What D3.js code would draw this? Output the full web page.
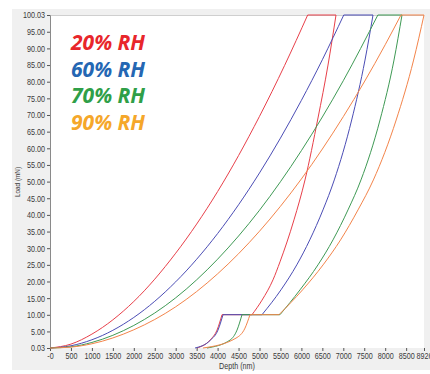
<!DOCTYPE html>
<html>
<head>
<meta charset="utf-8">
<script src="https://cdn.jsdelivr.net/npm/d3@7"></script>
<style>
  html, body { margin: 0; padding: 0; background: #ffffff; }
  svg { display: block; }
  .tick text { font-family: "Liberation Sans", Arial, sans-serif; font-size: 9px; fill: #3a3a3a; }
  .tick line { stroke: #555; }
</style>
</head>
<body>
<svg id="chart" width="430" height="374"></svg>
<script>
// Load–depth indentation curves at four relative humidities.
// Each test: loading to 100 mN, hold, unloading to 10 mN, hold, final unload.
const seriesNames = ["20% RH", "60% RH", "70% RH", "90% RH"];

// [depth (nm), load (mN)]
const rh20Loading = [[0, 0.03], [500, 1.2], [1000, 4.2], [2000, 14.0], [3000, 28.5], [4000, 47.0], [5000, 69.6], [5600, 84.9], [6150, 100.03]];
const rh20Unloading = [[6826, 100.03], [6635, 85.0], [6396, 69.1], [6086, 50.5], [5823, 38.5], [5489, 25.9], [5322, 20.5], [5060, 14.4], [4821, 10.03]];
const rh20Tail = [[4105, 10.03], [3986, 5.4], [3819, 2.4], [3508, 0.03]];

const rh60Loading = [[0, 0.03], [500, 0.7], [1000, 2.5], [2000, 9.2], [3000, 19.9], [4000, 34.4], [5000, 52.6], [6000, 74.4], [6500, 86.6], [7011, 100.03]];
const rh60Unloading = [[7709, 100.03], [7518, 86.5], [7200, 68.5], [6785, 50.5], [6515, 41.5], [6200, 32.5], [5890, 25.0], [5513, 17.5], [5060, 10.03]];
const rh60Tail = [[4129, 10.03], [4009, 5.4], [3831, 2.4], [3461, 0.03]];

const rh70Loading = [[0, 0.03], [500, 0.4], [1000, 1.7], [2000, 6.8], [3000, 15.1], [4000, 26.7], [5000, 41.4], [6000, 59.3], [7000, 80.3], [7825, 100.03]];
const rh70Unloading = [[8401, 100.03], [8210, 86.5], [7876, 68.5], [7422, 50.5], [7112, 41.5], [6754, 32.5], [6396, 25.0], [5967, 17.5], [5489, 10.03]];
const rh70Tail = [[4582, 10.03], [4463, 5.4], [4296, 2.4], [3747, 0.03]];

const rh90Loading = [[0, 0.03], [500, 0.3], [1000, 1.3], [2000, 5.5], [3000, 12.4], [4000, 22.3], [5000, 35.1], [6000, 50.8], [7000, 69.5], [8000, 91.1], [8376, 100.03]];
const rh90Unloading = [[8926, 100.03], [8678, 86.5], [8262, 68.5], [7718, 50.5], [7351, 41.5], [6935, 32.5], [6518, 25.0], [6029, 17.5], [5465, 10.03]];
const rh90Tail = [[4773, 10.03], [4654, 6.0], [4439, 3.0], [3651, 0.03]];

const xTickValues = [0, 500, 1000, 1500, 2000, 2500, 3000, 3500, 4000, 4500, 5000, 5500, 6000, 6500, 7000, 7500, 8000, 8500, 8926];
const yTickValues = [0.03, 5, 10, 15, 20, 25, 30, 35, 40, 45, 50, 55, 60, 65, 70, 75, 80, 85, 90, 95, 100.03];

const curves = [
  [rh20Loading, rh20Unloading, rh20Tail],
  [rh60Loading, rh60Unloading, rh60Tail],
  [rh70Loading, rh70Unloading, rh70Tail],
  [rh90Loading, rh90Unloading, rh90Tail]
];

const lineColors = ["#e8404a", "#4b4db5", "#3f9a55", "#f3844a"];
const labelColors = ["#e8262b", "#2467b3", "#2f9f48", "#f5a72a"];

const svg = d3.select("#chart");
const plot = { left: 50, right: 424, top: 15, bottom: 348 };
const squeeze = 0.8; // horizontal compression of the small axis text

// panel background
svg.append("rect").attr("x", 12).attr("y", 9).attr("width", 418).attr("height", 361).attr("fill", "#f0f0f0");
svg.append("rect").attr("x", plot.left).attr("y", plot.top)
  .attr("width", plot.right - plot.left).attr("height", plot.bottom - plot.top)
  .attr("fill", "#ffffff");
svg.append("line").attr("x1", plot.left).attr("x2", plot.right).attr("y1", plot.top + 0.5).attr("y2", plot.top + 0.5)
  .attr("stroke", "#cfcfcf");

const x = d3.scaleLinear().domain([0, 8926]).range([plot.left, plot.right]);
const y = d3.scaleLinear().domain([0.03, 100.03]).range([plot.bottom, plot.top]);

// axes
const yAxis = d3.axisLeft(y).tickValues(yTickValues).tickSize(3).tickPadding(2)
  .tickFormat(d => d.toFixed(2));
const gy = svg.append("g").attr("transform", `translate(${plot.left},0)`).call(yAxis);
gy.select(".domain").attr("stroke", "#8a8a8a");
gy.selectAll(".tick text").attr("x", -5 / squeeze).attr("transform", `scale(${squeeze},1)`);

const xAxis = d3.axisBottom(x).tickValues(xTickValues).tickSize(3).tickPadding(2)
  .tickFormat(d => d === 0 ? "-0" : String(d));
const gx = svg.append("g").attr("transform", `translate(0,${plot.bottom})`).call(xAxis);
gx.select(".domain").remove();
gx.selectAll(".tick text").attr("transform", `scale(${squeeze},1)`);

const axisFont = "'Liberation Sans', Arial, sans-serif";
svg.append("text").attr("transform", `translate(${(plot.left + plot.right) / 2},369) scale(${squeeze},1)`)
  .attr("text-anchor", "middle")
  .style("font-family", axisFont)
  .style("font-size", "9px").attr("fill", "#3a3a3a").text("Depth (nm)");

svg.append("text").attr("transform", `translate(20,182) rotate(-90) scale(${squeeze},1)`)
  .attr("text-anchor", "middle")
  .style("font-family", axisFont)
  .style("font-size", "8px").attr("fill", "#3a3a3a").text("Load (mN)");

// curves
const smoothX = d3.line().x(d => x(d[0])).y(d => y(d[1])).curve(d3.curveMonotoneX);
const straight = d3.line().x(d => x(d[0])).y(d => y(d[1]));
const byDepth = pts => pts.slice().sort((a, b) => a[0] - b[0]);

const gc = svg.append("g").attr("fill", "none").attr("stroke-width", 1);
curves.forEach(([loading, unloading, tail], i) => {
  const c = lineColors[i];
  const top = [loading[loading.length - 1], unloading[0]];
  const low = [unloading[unloading.length - 1], tail[0]];
  gc.append("path").attr("d", smoothX(byDepth(loading))).attr("stroke", c);
  gc.append("path").attr("d", straight(top)).attr("stroke", c);
  gc.append("path").attr("d", smoothX(byDepth(unloading))).attr("stroke", c);
  gc.append("path").attr("d", straight(low)).attr("stroke", c);
  gc.append("path").attr("d", smoothX(byDepth(tail))).attr("stroke", c);
});

// legend labels
svg.append("g").selectAll("text").data(seriesNames).join("text")
  .attr("x", 71).attr("y", (d, i) => 50 + i * 26.5)
  .style("font-family", "'Open Sans', sans-serif")
  .style("font-weight", "bold").style("font-style", "italic").style("font-size", "21px")
  .attr("fill", (d, i) => labelColors[i])
  .text(d => d);
</script>
</body>
</html>
